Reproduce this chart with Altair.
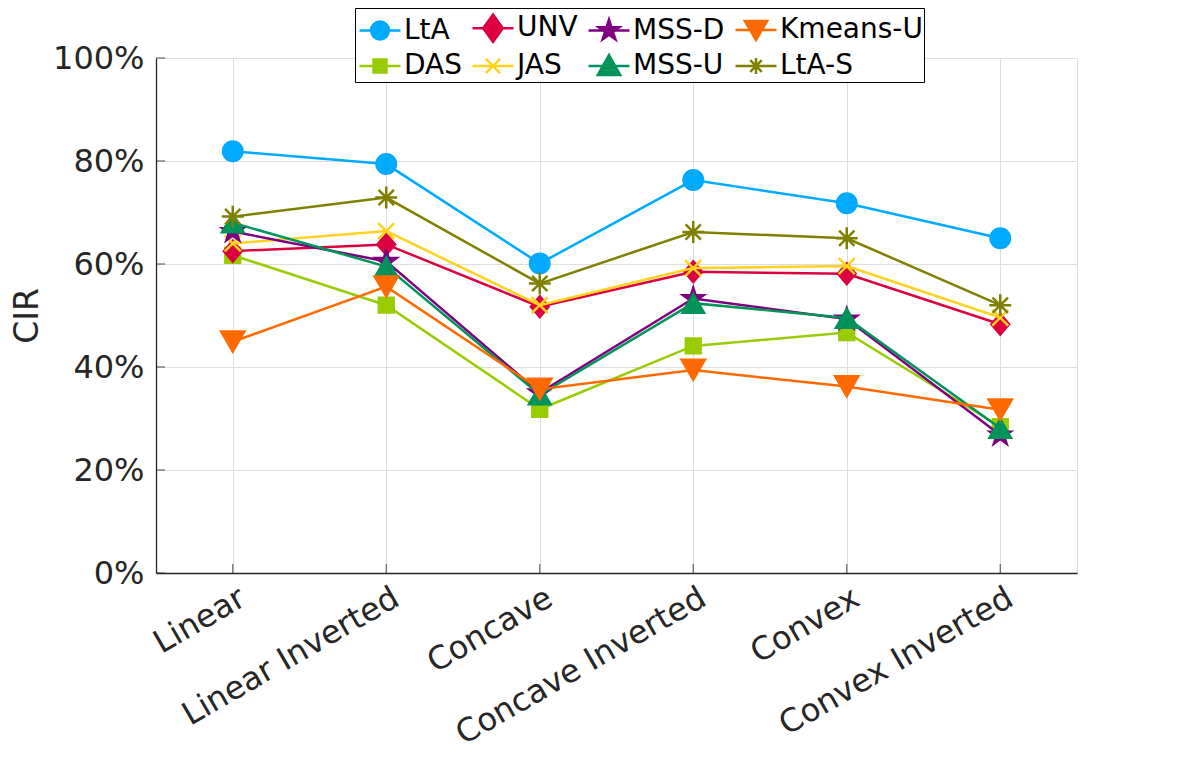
import altair as alt
import pandas as pd

categories = ["Linear", "Linear Inverted", "Concave", "Concave Inverted", "Convex", "Convex Inverted"]
series_names = ["LtA", "DAS", "UNV", "JAS", "MSS-D", "MSS-U", "Kmeans-U", "LtA-S"]

lta = [81.9, 79.4, 60.1, 76.3, 71.8, 65.0]
das = [61.7, 52.0, 31.8, 44.1, 46.7, 28.4]
unv = [62.5, 63.8, 51.7, 58.5, 58.1, 48.3]
jas = [64.0, 66.4, 52.0, 59.2, 59.6, 49.6]
mss_d = [66.3, 60.5, 35.0, 53.3, 49.3, 26.8]
mss_u = [68.0, 59.5, 34.6, 52.4, 49.5, 28.1]
kmeans_u = [44.9, 55.6, 35.7, 39.4, 36.2, 31.7]
lta_s = [69.2, 72.9, 56.2, 66.2, 65.0, 52.0]

y_ticks = [0, 20, 40, 60, 80, 100]

values = {
    "LtA": lta, "DAS": das, "UNV": unv, "JAS": jas,
    "MSS-D": mss_d, "MSS-U": mss_u, "Kmeans-U": kmeans_u, "LtA-S": lta_s,
}

rows = []
for s in series_names:
    for c, v in zip(categories, values[s]):
        rows.append({"Method": s, "Shape": c, "CIR": v})
df = pd.DataFrame(rows)
ytick_df = pd.DataFrame({"CIR": y_ticks})
xtick_df = pd.DataFrame({"Shape": categories})

colors = {
    "LtA": "#00AAFF", "DAS": "#99CC00", "UNV": "#DC0041", "JAS": "#FFD21E",
    "MSS-D": "#7E0080", "MSS-U": "#00935A", "Kmeans-U": "#FF6A00", "LtA-S": "#808000",
}

DIAMOND = "M0,-1 L0.85,0 L0,1 L-0.85,0 Z"
STAR = ("M0,-1 L0.225,-0.309 L0.951,-0.309 L0.363,0.118 L0.588,0.809 L0,0.382 "
        "L-0.588,0.809 L-0.363,0.118 L-0.951,-0.309 L-0.225,-0.309 Z")
XMARK = "M-1,-1 L1,1 M-1,1 L1,-1"
ASTER = "M-1,0 L1,0 M0,-1 L0,1 M-0.7,-0.7 L0.7,0.7 M-0.7,0.7 L0.7,-0.7"

markers = {
    "LtA": ("circle", 420, True),
    "DAS": ("square", 250, True),
    "UNV": (DIAMOND, 500, True),
    "JAS": (XMARK, 256, False),
    "MSS-D": (STAR, 620, True),
    "MSS-U": ("triangle-up", 540, True),
    "Kmeans-U": ("triangle-down", 620, True),
    "LtA-S": (ASTER, 480, False),
}

# legend symbols: line segment through the marker (unit = 17.5 px)
LINE = "M-1.17,0 L1.17,0 "
legend_paths = {
    "LtA": LINE + "M0.51,0 A0.51,0.51 0 1,1 -0.51,0 A0.51,0.51 0 1,1 0.51,0 Z",
    "DAS": LINE + "M-0.37,-0.37 L0.37,-0.37 L0.37,0.37 L-0.37,0.37 Z",
    "UNV": LINE + "M0,-0.78 L0.56,0 L0,0.78 L-0.56,0 Z",
    "JAS": LINE + "M-0.41,-0.41 L0.41,0.41 M-0.41,0.41 L0.41,-0.41",
    "MSS-D": LINE + ("M0,-0.62 L0.139,-0.19 L0.59,-0.19 L0.225,0.073 L0.365,0.502 "
                     "L0,0.237 L-0.365,0.502 L-0.225,0.073 L-0.59,-0.19 L-0.139,-0.19 Z"),
    "MSS-U": LINE + "M0,-0.62 L0.64,0.52 L-0.64,0.52 Z",
    "Kmeans-U": LINE + "M0,0.57 L0.64,-0.52 L-0.64,-0.52 Z",
    "LtA-S": LINE + "M0,-0.46 L0,0.46 M-0.33,-0.33 L0.33,0.33 M-0.33,0.33 L0.33,-0.33",
}

legend_order = ["LtA", "UNV", "MSS-D", "Kmeans-U", "DAS", "JAS", "MSS-U", "LtA-S"]

FONT = "DejaVu Sans"
TXT = "#262626"
GRID = "#DEDEDE"
W, H = 921, 515

x_enc = alt.X(
    "Shape:N", sort=categories,
    scale=alt.Scale(type="point", padding=0.5, domain=categories),
    axis=alt.Axis(
        title=None, labelAngle=330, labelAlign="right", labelBaseline="top",
        labelFontSize=32, labelFont=FONT, labelColor=TXT, labelPadding=9,
        labelOffset=2, labelLimit=0, ticks=False, grid=True, gridColor=GRID,
        gridWidth=1, domainColor=TXT, domainWidth=1.3, labelOverlap=False,
    ),
)
y_enc = alt.Y(
    "CIR:Q",
    scale=alt.Scale(domain=[0, 100], nice=False),
    axis=alt.Axis(
        title="CIR", values=y_ticks, labelExpr="datum.value + '%'",
        labelFontSize=32, labelFont=FONT, labelColor=TXT, labelPadding=12,
        ticks=False, grid=True, gridColor=GRID, gridWidth=1,
        domainColor=TXT, domainWidth=1.3,
        titleFontSize=33, titleFont=FONT, titleFontWeight="normal",
        titleColor=TXT, titlePadding=8,
    ),
)

base = alt.Chart(df)
layers = []

# inward axis ticks (MATLAB style)
layers.append(
    alt.Chart(ytick_df).mark_tick(orient="horizontal", size=9, thickness=1.2, color=TXT)
    .encode(y=y_enc, x=alt.value(4.5))
)
layers.append(
    alt.Chart(xtick_df).mark_tick(orient="vertical", size=9, thickness=1.2, color=TXT)
    .encode(x=x_enc, y=alt.value(H - 4.5))
)

for s in series_names:
    sub = base.transform_filter(alt.datum.Method == s)
    layers.append(
        sub.mark_line(color=colors[s], strokeWidth=2.5).encode(x=x_enc, y=y_enc)
    )
    shape, size, filled = markers[s]
    if filled:
        pts = sub.mark_point(shape=shape, size=size, filled=True, fill=colors[s],
                             stroke=colors[s], strokeWidth=1.5, opacity=1)
    else:
        pts = sub.mark_point(shape=shape, size=size, filled=False,
                             stroke=colors[s], strokeWidth=2.5, opacity=1)
    layers.append(pts.encode(x=x_enc, y=y_enc))

leg = alt.Legend(
    title=None, orient="none", legendX=199, legendY=-50, columns=4,
    direction="horizontal", labelFont=FONT, labelFontSize=28, labelColor="#000000",
    symbolSize=1225, symbolStrokeWidth=2.5, strokeColor="#000000",
    fillColor="#FFFFFF", padding=1, rowPadding=0, columnPadding=5,
    labelOffset=5, symbolOffset=5, symbolOpacity=1,
)
leg_domain = legend_order
color_range = [colors[s] for s in legend_order]
legend_layer = base.transform_filter("datum.CIR < -1").mark_point(
    filled=True, strokeWidth=2.5, opacity=1
).encode(
    x=x_enc, y=y_enc,
    fill=alt.Fill("Method:N", scale=alt.Scale(domain=leg_domain, range=color_range), legend=leg),
    stroke=alt.Stroke("Method:N", scale=alt.Scale(domain=leg_domain, range=color_range), legend=leg),
    shape=alt.Shape("Method:N", scale=alt.Scale(domain=leg_domain,
                    range=[legend_paths[s] for s in legend_order]), legend=leg),
)
layers.append(legend_layer)

chart = alt.layer(*layers).properties(
    width=W, height=H,
    autosize=alt.AutoSizeParams(type="none"),
    padding={"left": 148, "top": 50, "right": 105, "bottom": 182},
).configure_view(stroke=None).configure(background="#FFFFFF")

chart.save("out.html", embed_options={"renderer": "svg", "actions": False})
